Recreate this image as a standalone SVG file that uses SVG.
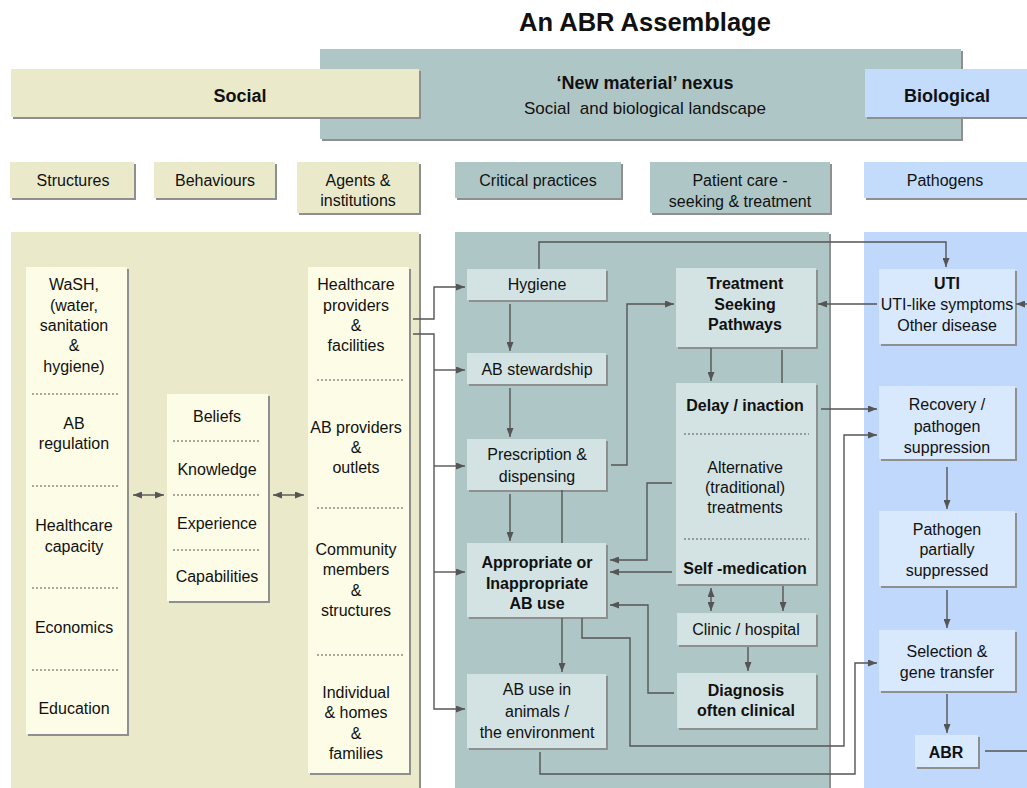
<svg xmlns="http://www.w3.org/2000/svg" width="1027" height="788" viewBox="0 0 1027 788">
<style>
.soc{fill:#eaeacb}.socn{fill:#fdfde7}.crit{fill:#afc6c7}.critn{fill:#d3e3e3}.bio{fill:#bfd8fb}.bion{fill:#d8e8fd}.bioh{fill:#c4dcfc}
.sh{fill:#8f8f8f}
.t{font-family:"Liberation Sans",Arial,Helvetica,sans-serif;font-size:16px;fill:#111;text-anchor:middle}
.b{font-weight:bold}
.h{font-size:18px}
.c{stroke:#555;stroke-width:1.4;fill:none}
.ae{marker-end:url(#ah)}
.ab{marker-end:url(#ah);marker-start:url(#ah)}
.dot{stroke:#555;stroke-width:1;stroke-dasharray:2 2;fill:none}
</style>
<defs>
<marker id="ah" markerUnits="userSpaceOnUse" markerWidth="9" markerHeight="7" refX="9" refY="3.5" orient="auto-start-reverse">
<path d="M0,0 L9,3.5 L0,7 z" fill="#555"/>
</marker>
</defs>
<rect width="1027" height="788" fill="#fff"/>
<text class="t b" x="645" y="31" style="font-size:25.5px">An ABR Assemblage</text>

<g id="header-nexus">
<rect class="sh" x="322" y="51" width="641" height="90"/>
<rect class="crit" x="320" y="49" width="641" height="90"/>
<text class="t b h" x="645" y="89">‘New material’ nexus</text>
<text class="t" x="645" y="114" style="white-space:pre;font-size:17px" xml:space="preserve">Social  and biological landscape</text>
</g>
<g id="header-social">
<rect class="sh" x="13" y="71" width="408" height="48"/>
<rect class="soc" x="11" y="69" width="408" height="48"/>
<text class="t b h" x="240" y="102">Social</text>
</g>
<g id="header-biological">
<rect class="sh" x="867" y="71" width="162" height="48"/>
<rect class="bioh" x="865" y="69" width="162" height="48"/>
<text class="t b h" x="947" y="102">Biological</text>
</g>

<g id="label-structures"><rect class="sh" x="12" y="164" width="124" height="36"/><rect class="soc" x="10" y="162" width="124" height="36"/><text class="t" x="73" y="186">Structures</text></g>
<g id="label-behaviours"><rect class="sh" x="156" y="164" width="121" height="36"/><rect class="soc" x="154" y="162" width="121" height="36"/><text class="t" x="215" y="186">Behaviours</text></g>
<g id="label-agents"><rect class="sh" x="299" y="164" width="122" height="51"/><rect class="soc" x="297" y="162" width="122" height="51"/><text class="t" x="358" y="186">Agents &amp;</text><text class="t" x="358" y="206">institutions</text></g>
<g id="label-critical"><rect class="sh" x="457" y="164" width="166" height="36"/><rect class="crit" x="455" y="162" width="166" height="36"/><text class="t" x="538" y="186">Critical practices</text></g>
<g id="label-patient"><rect class="sh" x="652" y="164" width="180" height="51"/><rect class="crit" x="650" y="162" width="180" height="51"/><text class="t" x="740" y="186">Patient care -</text><text class="t" x="740" y="207">seeking &amp; treatment</text></g>
<g id="label-pathogens"><rect class="sh" x="866" y="164" width="163" height="36"/><rect class="bioh" x="864" y="162" width="163" height="36"/><text class="t" x="945" y="186">Pathogens</text></g>

<g id="panels">
<rect class="sh" x="13" y="234" width="408" height="556"/>
<rect class="soc" x="11" y="232" width="408" height="556"/>
<rect class="sh" x="457" y="234" width="374" height="556"/>
<rect class="crit" x="455" y="232" width="374" height="556"/>
<rect class="bio" x="864" y="232" width="163" height="556"/>
</g>

<g id="structures">
<rect class="sh" x="28" y="269" width="101" height="467"/>
<rect class="socn" x="26" y="267" width="101" height="467"/>
<text class="t" x="74" y="290">WaSH,</text>
<text class="t" x="74" y="311">(water,</text>
<text class="t" x="74" y="331">sanitation</text>
<text class="t" x="74" y="351">&amp;</text>
<text class="t" x="74" y="372">hygiene)</text>
<line class="dot" x1="32" y1="394" x2="119" y2="394"/>
<text class="t" x="74" y="429">AB</text>
<text class="t" x="74" y="449">regulation</text>
<line class="dot" x1="32" y1="486" x2="119" y2="486"/>
<text class="t" x="74" y="531">Healthcare</text>
<text class="t" x="74" y="552">capacity</text>
<line class="dot" x1="32" y1="588" x2="119" y2="588"/>
<text class="t" x="74" y="633">Economics</text>
<line class="dot" x1="32" y1="670" x2="119" y2="670"/>
<text class="t" x="74" y="714">Education</text>
</g>

<g id="behaviours">
<rect class="sh" x="169" y="396" width="101" height="207"/>
<rect class="socn" x="167" y="394" width="101" height="207"/>
<text class="t" x="217" y="422">Beliefs</text>
<line class="dot" x1="173" y1="441" x2="260" y2="441"/>
<text class="t" x="217" y="475">Knowledge</text>
<line class="dot" x1="173" y1="495" x2="260" y2="495"/>
<text class="t" x="217" y="529">Experience</text>
<line class="dot" x1="173" y1="550" x2="260" y2="550"/>
<text class="t" x="217" y="582">Capabilities</text>
</g>

<g id="agents">
<rect class="sh" x="310" y="269" width="101" height="506"/>
<rect class="socn" x="308" y="267" width="101" height="506"/>
<text class="t" x="356" y="290">Healthcare</text>
<text class="t" x="356" y="311">providers</text>
<text class="t" x="356" y="331">&amp;</text>
<text class="t" x="356" y="351">facilities</text>
<line class="dot" x1="317" y1="380" x2="403" y2="380"/>
<text class="t" x="356" y="433">AB providers</text>
<text class="t" x="356" y="453">&amp;</text>
<text class="t" x="356" y="473">outlets</text>
<line class="dot" x1="317" y1="508" x2="403" y2="508"/>
<text class="t" x="356" y="555">Community</text>
<text class="t" x="356" y="575">members</text>
<text class="t" x="356" y="596">&amp;</text>
<text class="t" x="356" y="616">structures</text>
<line class="dot" x1="317" y1="655" x2="403" y2="655"/>
<text class="t" x="356" y="698">Individual</text>
<text class="t" x="356" y="718">&amp; homes</text>
<text class="t" x="356" y="739">&amp;</text>
<text class="t" x="356" y="759">families</text>
</g>

<g id="hygiene"><rect class="sh" x="469" y="271" width="139" height="31"/><rect class="critn" x="467" y="269" width="139" height="31"/><text class="t" x="537" y="290">Hygiene</text></g>
<g id="ab-stewardship"><rect class="sh" x="469" y="355" width="139" height="31"/><rect class="critn" x="467" y="353" width="139" height="31"/><text class="t" x="537" y="375">AB stewardship</text></g>
<g id="prescription"><rect class="sh" x="469" y="441" width="139" height="51"/><rect class="critn" x="467" y="439" width="139" height="51"/><text class="t" x="537" y="460">Prescription &amp;</text><text class="t" x="537" y="482">dispensing</text></g>
<g id="appropriate"><rect class="sh" x="469" y="545" width="139" height="74"/><rect class="critn" x="467" y="543" width="139" height="74"/><text class="t b" x="537" y="568">Appropriate or</text><text class="t b" x="537" y="589">Inappropriate</text><text class="t b" x="537" y="609">AB use</text></g>
<g id="ab-animals"><rect class="sh" x="469" y="676" width="139" height="74"/><rect class="critn" x="467" y="674" width="139" height="74"/><text class="t" x="537" y="695">AB use in</text><text class="t" x="537" y="717">animals /</text><text class="t" x="537" y="738">the environment</text></g>
<g id="treatment"><rect class="sh" x="678" y="270" width="140" height="79"/><rect class="critn" x="676" y="268" width="140" height="79"/><text class="t b" x="745" y="289">Treatment</text><text class="t b" x="745" y="310">Seeking</text><text class="t b" x="745" y="330">Pathways</text></g>
<g id="delay"><rect class="sh" x="678" y="385" width="140" height="201"/><rect class="critn" x="676" y="383" width="140" height="201"/><text class="t b" x="745" y="411">Delay / inaction</text><line class="dot" x1="684" y1="434" x2="809" y2="434"/><text class="t" x="745" y="473">Alternative</text><text class="t" x="745" y="493">(traditional)</text><text class="t" x="745" y="513">treatments</text><line class="dot" x1="684" y1="539" x2="809" y2="539"/><text class="t b" x="745" y="574">Self -medication</text></g>
<g id="clinic"><rect class="sh" x="679" y="615" width="139" height="32"/><rect class="critn" x="677" y="613" width="139" height="32"/><text class="t" x="746" y="635">Clinic / hospital</text></g>
<g id="diagnosis"><rect class="sh" x="679" y="675" width="139" height="55"/><rect class="critn" x="677" y="673" width="139" height="55"/><text class="t b" x="746" y="696">Diagnosis</text><text class="t b" x="746" y="716">often clinical</text></g>

<g id="uti"><rect class="sh" x="881" y="271" width="136" height="75"/><rect class="bion" x="879" y="269" width="136" height="75"/><text class="t b" x="947" y="289">UTI</text><text class="t" x="947" y="310">UTI-like symptoms</text><text class="t" x="947" y="331">Other disease</text></g>
<g id="recovery"><rect class="sh" x="881" y="388" width="136" height="73"/><rect class="bion" x="879" y="386" width="136" height="73"/><text class="t" x="947" y="410">Recovery /</text><text class="t" x="947" y="432">pathogen</text><text class="t" x="947" y="453">suppression</text></g>
<g id="partial"><rect class="sh" x="881" y="513" width="136" height="75"/><rect class="bion" x="879" y="511" width="136" height="75"/><text class="t" x="947" y="535">Pathogen</text><text class="t" x="947" y="555">partially</text><text class="t" x="947" y="576">suppressed</text></g>
<g id="selection"><rect class="sh" x="881" y="632" width="136" height="61"/><rect class="bion" x="879" y="630" width="136" height="61"/><text class="t" x="947" y="657">Selection &amp;</text><text class="t" x="947" y="678">gene transfer</text></g>
<g id="abr"><rect class="sh" x="917" y="737" width="63" height="32"/><rect class="bion" x="915" y="735" width="63" height="32"/><text class="t b" x="946" y="758">ABR</text></g>

<g id="connectors">
<path class="c ab" d="M133,495 H164"/>
<path class="c ab" d="M273,495 H304"/>
<path class="c ae" d="M413,319 H434 V287 H465"/>
<path class="c ae" d="M413,334 H434 V709 H465"/>
<path class="c ae" d="M434,370 H465"/>
<path class="c ae" d="M434,466 H465"/>
<path class="c ae" d="M434,572 H465"/>
<path class="c ae" d="M510,304 V351"/>
<path class="c ae" d="M510,388 V437"/>
<path class="c ae" d="M510,494 V541"/>
<path class="c" d="M562,490 V543"/>
<path class="c ae" d="M611,465 H627 V304 H674"/>
<path class="c ae" d="M711,348 V381"/>
<path class="c" d="M782,350 V383"/>
<path class="c ae" d="M672,483 H647 V560 H610"/>
<path class="c ae" d="M672,572 H610"/>
<path class="c ae" d="M674,693 H648 V605 H610"/>
<path class="c ae" d="M562,618 V672"/>
<path class="c ab" d="M711,588 V611"/>
<path class="c ae" d="M783,586 V611"/>
<path class="c ae" d="M748,647 V671"/>
<path class="c ae" d="M582,618 V638 H630 V746 H844 V435 H877"/>
<path class="c ae" d="M540,752 V774 H855 V663 H877"/>
<path class="c ae" d="M539,269 V242 H946 V267"/>
<path class="c ae" d="M877,304 H818"/>
<path class="c ae" d="M821,409 H877"/>
<path class="c ae" d="M1027,304 H1016"/>
<path class="c" d="M985,751 H1027"/>
<path class="c ae" d="M947,467 V509"/>
<path class="c ae" d="M947,590 V628"/>
<path class="c ae" d="M947,694 V733"/>
</g>
</svg>
